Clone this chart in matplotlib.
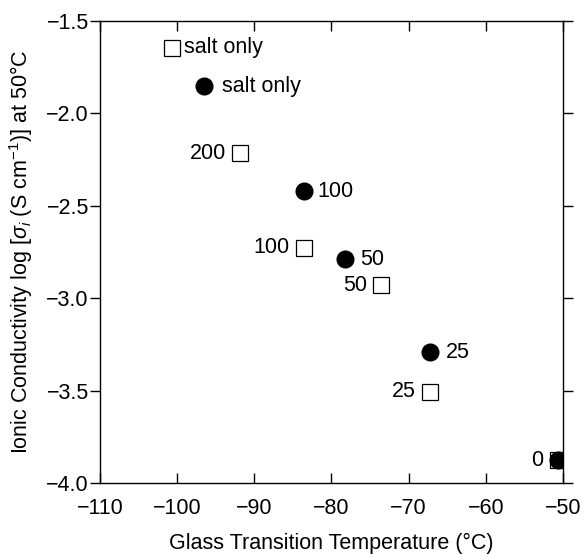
import matplotlib
matplotlib.use("Agg")
import matplotlib.pyplot as plt

plt.rcParams['font.family'] = ['Liberation Sans', 'DejaVu Sans']
plt.rcParams['mathtext.fontset'] = 'custom'
plt.rcParams['mathtext.rm'] = 'Liberation Sans'
plt.rcParams['mathtext.it'] = 'Liberation Sans:italic'
plt.rcParams['mathtext.sf'] = 'Liberation Sans'

# Open squares
sq_x = [-100.7, -91.8, -83.6, -73.6, -67.3, -50.6]
sq_y = [-1.644, -2.216, -2.727, -2.929, -3.506, -3.876]
sq_labels = ["salt only", "200", "100", "50", "25", "0"]

# Filled circles
ci_x = [-96.5, -83.6, -78.3, -67.3, -50.6]
ci_y = [-1.852, -2.42, -2.79, -3.293, -3.876]
ci_labels = ["salt only", "100", "50", "25", ""]

xticks = [-110, -100, -90, -80, -70, -60, -50]
yticks = [-4.0, -3.5, -3.0, -2.5, -2.0, -1.5]

fig = plt.figure(figsize=(5.84, 5.54), dpi=100)
ax = fig.add_axes([100/584, 1-483/554, 463/584, 462/554])

ax.plot(sq_x, sq_y, linestyle='none', marker='s', markersize=11.5,
        markerfacecolor='white', markeredgecolor='black', markeredgewidth=0.9, zorder=3)
ax.plot(ci_x, ci_y, linestyle='none', marker='o', markersize=12,
        markerfacecolor='black', markeredgecolor='black', zorder=4)

fs = 15.5
# square labels: first to the right, others to the left
sq_offsets = [(12, 0), (-14, 0), (-14, 0), (-14, 0), (-14, 0), (-15, 0)]
for x, y, t, off in zip(sq_x, sq_y, sq_labels, sq_offsets):
    ax.annotate(t, (x, y), xytext=off, textcoords='offset pixels',
                ha='left' if off[0] > 0 else 'right', va='center', fontsize=fs)
ci_offsets = [(18, 0), (14, 0), (16, 0), (16, 0), (15, 0)]
for x, y, t, off in zip(ci_x, ci_y, ci_labels, ci_offsets):
    if t:
        ax.annotate(t, (x, y), xytext=off, textcoords='offset pixels',
                    ha='left', va='center', fontsize=fs)

ax.set_xlim(-110, -50)
ax.set_ylim(-4.0, -1.5)
ax.set_xticks(xticks)
ax.set_yticks(yticks)
ax.set_xticklabels(["\u2212%d" % abs(v) for v in xticks])
ax.set_yticklabels(["\u2212%.1f" % abs(v) for v in yticks])
ax.tick_params(axis='x', direction='in', length=7, width=1, labelsize=fs, pad=11, top=True)
ax.tick_params(axis='y', direction='out', length=7, width=1, labelsize=fs, pad=1)
ax.tick_params(axis='y', which='major', right=True)
for t in ax.yaxis.get_major_ticks():
    t.tick2line.set_marker(matplotlib.lines.TICKRIGHT)
for sp in ax.spines.values():
    sp.set_linewidth(1.0)

ax.set_xlabel("Glass Transition Temperature (\u00b0C)", fontsize=fs, labelpad=10)
ax.set_ylabel("Ionic Conductivity log [$\\sigma_i$ (S cm$^{-1}$)] at 50\u00b0C", fontsize=fs, labelpad=8)

fig.savefig("out.png", dpi=100)
